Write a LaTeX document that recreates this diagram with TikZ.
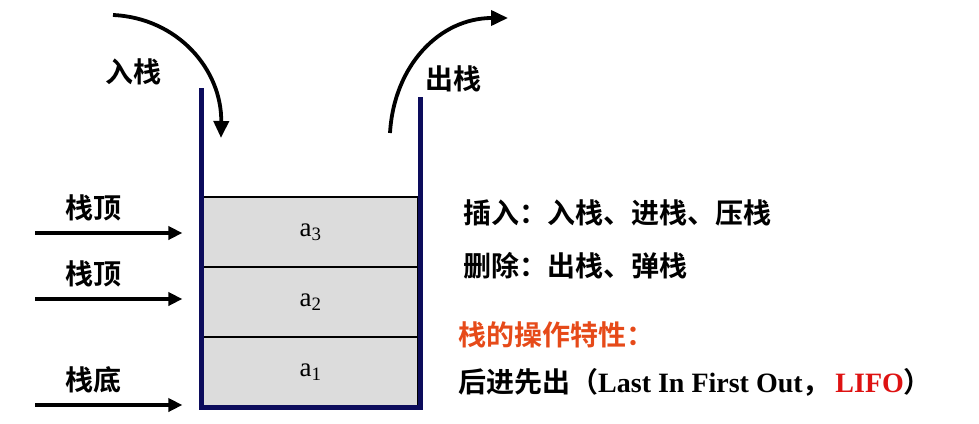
\documentclass[tikz,border=0pt]{standalone}
\usepackage{fontspec}
\setmainfont{Liberation Serif}
\newfontfamily\cjk{Noto Sans CJK SC Bold}
\usepackage{xcolor}
\usepackage{tikz}
\usetikzlibrary{arrows.meta,calc}

\definecolor{wallnavy}{RGB}{12,12,92}
\definecolor{cellgray}{RGB}{220,220,220}
\definecolor{notered}{RGB}{230,74,25}
\definecolor{lifored}{RGB}{222,18,18}

\begin{document}
\begin{tikzpicture}[x=1pt, y=-1pt,
  cell/.style={draw=black, line width=1.2pt, fill=cellgray, inner sep=0pt,
    minimum width=215pt, minimum height=70pt, font=\fontsize{27}{30}\selectfont},
  wall/.style={draw=wallnavy, line width=5pt},
  pointer/.style={-{Triangle[length=14pt,width=13pt]}, line width=4pt},
  move/.style={-{Triangle[length=17pt,width=15pt]}, line width=3.8pt},
  tag/.style={font=\cjk\fontsize{28}{31}\selectfont, inner sep=0pt},
  note/.style={anchor=west, inner sep=0pt, font=\fontsize{28}{31}\selectfont}
]
\useasboundingbox (0,0) rectangle (979,423);

% stack cells
\node[cell] (a3) at (310.5,232) {a\textsubscript{3}};
\node[cell] (a2) at (310.5,302) {a\textsubscript{2}};
\node[cell] (a1) at (310.5,372) {a\textsubscript{1}};

% container
\coordinate (lefttop) at (201.5,88);
\coordinate (righttop) at (420,97);
\draw[wall] (lefttop) -- (lefttop |- a1.south) -- (righttop |- a1.south) -- (righttop);

% pointers
\coordinate (top3) at (35,233);
\coordinate (top2) at (35,299);
\coordinate (bottom) at (35,405);
\node[tag] (top3lbl) at (93,208) {栈顶};
\node[tag] (top2lbl) at (93,274) {栈顶};
\node[tag] (bottomlbl) at (93,380) {栈底};
\draw[pointer] (top3) -- ($(a3.west |- top3)+(-20,0)$);
\draw[pointer] (top2) -- ($(a2.west |- top2)+(-20,0)$);
\draw[pointer] (bottom) -- ($(a1.west |- bottom)+(-20,0)$);

% push and pop
\coordinate (pushfrom) at (113,15);
\coordinate (pushto) at (221,138);
\coordinate (popfrom) at (390,133);
\coordinate (popto) at (508,18);
\node[tag] (pushlbl) at (133,72) {入栈};
\node[tag] (poplbl) at (453,79) {出栈};
\draw[move] (pushfrom) .. controls (178,18) and (222,70) .. (pushto);
\draw[move] (popfrom) .. controls (394,65) and (440,18) .. (popto);

% notes
\node[note] (insert) at (463,213) {\cjk 插入：入栈、进栈、压栈};
\node[note] (delete) at (463,266) {\cjk 删除：出栈、弹栈};
\node[note, text=notered] (feature) at (458,335) {\cjk 栈的操作特性：};
\node[note] (lifo) at (458,382) {{\cjk 后进先出（}{\bfseries Last In First Out}{\cjk ，}%
  \,{\color{lifored}\bfseries LIFO}{\cjk ）}};
\end{tikzpicture}
\end{document}
